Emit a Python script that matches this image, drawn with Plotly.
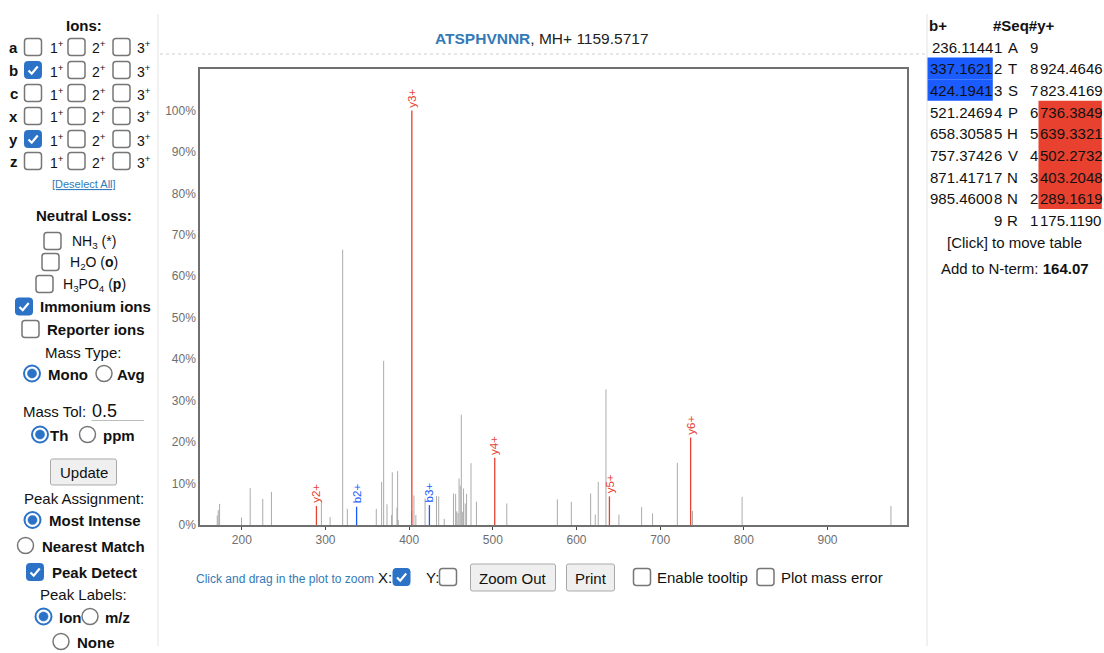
import plotly.graph_objects as go

# ---- spectrum data -------------------------------------------------------
peak_mz = [170.6, 171.8, 173.4, 199.6, 210.0, 225.0, 235.4, 295.1, 305.5, 320.5,
           326.1, 360.7, 367.1, 369.5, 373.5, 379.0, 379.8, 385.4, 386.2, 387.0,
           403.0, 405.7, 408.0, 419.0, 432.7, 435.3, 441.9, 453.0, 455.5, 456.8,
           458.4, 459.6, 461.0, 462.3, 463.5, 465.0, 467.0, 468.6, 473.9, 480.4,
           516.7, 577.1, 593.8, 616.9, 622.4, 626.0, 635.2, 650.7, 677.8, 690.9,
           720.5, 738.6, 797.9, 975.8]
peak_int = [2.3, 3.6, 5.1, 1.8, 8.9, 6.3, 8.0, 5.8, 1.9, 66.4,
            3.9, 3.9, 10.4, 39.6, 5.0, 2.4, 12.7, 4.2, 13.0, 1.2,
            3.4, 7.1, 2.4, 6.4, 7.0, 6.9, 1.5, 7.6, 7.5, 3.3,
            2.9, 11.2, 9.5, 26.6, 3.2, 8.8, 5.2, 7.5, 14.9, 5.6,
            5.2, 6.2, 5.6, 7.6, 2.5, 10.4, 32.7, 2.5, 4.3, 2.8,
            15.0, 3.4, 6.8, 4.6]

ion_labels = ["y2+", "b2+", "y3+", "b3+", "y4+", "y5+", "y6+"]
ion_mz = [289.1619, 337.16212, 403.2048, 424.19413, 502.2732, 639.3321, 736.3849]
ion_int = [4.6, 4.4, 100.0, 4.8, 16.2, 6.9, 21.1]

x_ticks = [200, 300, 400, 500, 600, 700, 800, 900]
y_ticks = [0, 10, 20, 30, 40, 50, 60, 70, 80, 90, 100]
y_tick_text = [f"{v}%" for v in y_ticks]

# ---- fragment table ------------------------------------------------------
sequence = ["A", "T", "S", "P", "H", "V", "N", "N", "R"]
b_ions = ["236.1144", "337.1621", "424.1941", "521.2469", "658.3058",
          "757.3742", "871.4171", "985.4600", ""]
y_ions = ["", "924.4646", "823.4169", "736.3849", "639.3321",
          "502.2732", "403.2048", "289.1619", "175.1190"]
b_matched = [1, 2]
y_matched = [3, 4, 5, 6, 7]

W, H = 1104, 653
H_DRAW = 646  # vertical extent the page layout is laid out on
FONT = "Liberation Sans, Arial, Helvetica, sans-serif"
RED = "#e8412f"
BLUE = "#1a5cff"
LINK = "#337ab7"
CHECK = "#2c72c7"
BOX = "#767676"


def X(px):
    return px / W


def Y(py):
    return 1 - py / H_DRAW


shapes = []
annotations = []


def text(px, py, s, size=15, color="#111111", anchor="left"):
    annotations.append(dict(
        x=X(px), y=Y(py + 0.5), xref="paper", yref="paper", text=s, showarrow=False,
        xanchor=anchor, yanchor="middle", borderpad=0,
        font=dict(size=size, color=color, family=FONT)))


def rect(x0, y0, x1, y1, fill="white", line=BOX, width=1.5):
    shapes.append(dict(type="rect", xref="paper", yref="paper",
                       x0=X(x0), x1=X(x1), y0=Y(y1), y1=Y(y0),
                       fillcolor=fill, line=dict(color=line, width=width)))


def round_rect(x0, y0, x1, y1, r=3, fill="white", line=BOX, width=1.5):
    def p(a, b):
        return f"{X(a):.5f},{Y(b):.5f}"
    path = (f"M {p(x0 + r, y0)} L {p(x1 - r, y0)} Q {p(x1, y0)} {p(x1, y0 + r)} "
            f"L {p(x1, y1 - r)} Q {p(x1, y1)} {p(x1 - r, y1)} "
            f"L {p(x0 + r, y1)} Q {p(x0, y1)} {p(x0, y1 - r)} "
            f"L {p(x0, y0 + r)} Q {p(x0, y0)} {p(x0 + r, y0)} Z")
    shapes.append(dict(type="path", xref="paper", yref="paper", path=path,
                       fillcolor=fill, line=dict(color=line, width=width)))


def checkbox(x0, yc, checked=False, size=17):
    y0 = yc - size / 2
    if checked:
        round_rect(x0, y0, x0 + size, y0 + size, fill=CHECK, line=CHECK, width=1)
        pts = [(x0 + 4, y0 + 9), (x0 + 7.2, y0 + 12.2), (x0 + 13.2, y0 + 5)]
        path = "M " + " L ".join(f"{X(a):.5f},{Y(b):.5f}" for a, b in pts)
        shapes.append(dict(type="path", xref="paper", yref="paper", path=path,
                           line=dict(color="white", width=2.2)))
    else:
        round_rect(x0, y0, x0 + size, y0 + size)


def circle(xc, yc, r, fill, line, width):
    shapes.append(dict(type="circle", xref="paper", yref="paper",
                       x0=X(xc - r), x1=X(xc + r), y0=Y(yc + r), y1=Y(yc - r),
                       fillcolor=fill, line=dict(color=line, width=width)))


def radio(xc, yc, checked=False):
    if checked:
        circle(xc, yc, 8, "white", CHECK, 2)
        circle(xc, yc, 4.6, CHECK, CHECK, 0.5)
    else:
        circle(xc, yc, 8, "white", BOX, 1.5)


def button(x0, y0, x1, y1, label):
    round_rect(x0, y0, x1, y1, r=2, fill="#efefef", line="#a9a9a9", width=1)
    text((x0 + x1) / 2, (y0 + y1) / 2, label, anchor="center")


# ---- page frame ----------------------------------------------------------
for xv in (158, 927):
    shapes.append(dict(type="line", xref="paper", yref="paper", x0=X(xv), x1=X(xv),
                       y0=Y(14), y1=0, line=dict(color="#e2e2e2", width=1)))
shapes.append(dict(type="line", xref="paper", yref="paper", x0=X(160), x1=X(925),
                   y0=Y(54), y1=Y(54), line=dict(color="#cfcfcf", width=1, dash="dot")))

# ---- title ---------------------------------------------------------------
text(542, 38, f"<span style='color:{LINK}'><b>{''.join(sequence)}</b></span>, MH+ 1159.5717",
     size=15.5, color="#222222", anchor="center")

# ---- ion selection panel -------------------------------------------------
text(83.5, 25, "<b>Ions:</b>", anchor="center")
ion_rows = ["a", "b", "c", "x", "y", "z"]
row_y = [47, 70, 93, 116, 139, 161]
for letter, yv in zip(ion_rows, row_y):
    text(13.5, yv, f"<b>{letter}</b>", anchor="center")
    checkbox(24.5, yv, checked=letter in ("b", "y"))
    text(48.5, yv, "1<sup>+</sup>", size=14)
    checkbox(68, yv)
    text(91, yv, "2<sup>+</sup>", size=14)
    checkbox(113, yv)
    text(136, yv, "3<sup>+</sup>", size=14)
text(83.5, 184, "<u>[Deselect All]</u>", size=11, color=LINK, anchor="center")

text(84, 215, "<b>Neutral Loss:</b>", anchor="center")
checkbox(44, 241)
text(71, 241, "NH<sub>3</sub> (*)", size=14)
checkbox(42, 262)
text(69, 262, "H<sub>2</sub>O (<b>o</b>)", size=14)
checkbox(36, 284)
text(62, 284, "H<sub>3</sub>PO<sub>4</sub> (<b>p</b>)", size=14)
checkbox(15.5, 306.5, checked=True)
text(39, 306.5, "<b>Immonium ions</b>")
checkbox(22, 329)
text(46, 329, "<b>Reporter ions</b>")

text(83, 351.5, "Mass Type:", anchor="center")
radio(32, 373.5, checked=True)
text(46.5, 373.5, "<b>Mono</b>")
radio(104, 373.5)
text(115.5, 373.5, "<b>Avg</b>")

text(22, 411, "Mass Tol:")
text(91.5, 410, "0.5", size=18)
shapes.append(dict(type="line", xref="paper", yref="paper", x0=X(91.5), x1=X(144),
                   y0=Y(420.5), y1=Y(420.5), line=dict(color="#bdbdbd", width=1)))
radio(40, 434.5, checked=True)
text(49, 434.5, "<b>Th</b>")
radio(87.5, 434.5)
text(101.5, 434.5, "<b>ppm</b>")

button(50.5, 459, 116.5, 485, "Update")
text(83.5, 498, "Peak Assignment:", anchor="center")
radio(32.5, 520, checked=True)
text(47.5, 520, "<b>Most Intense</b>")
radio(25.5, 545.5)
text(41, 545.5, "<b>Nearest Match</b>")
checkbox(26.5, 572, checked=True)
text(50.5, 572, "<b>Peak Detect</b>")
text(83.5, 593.5, "Peak Labels:", anchor="center")
radio(43.5, 616.5, checked=True)
text(57.5, 616.5, "<b>Ion</b>")
radio(90, 616.5)
text(104, 616.5, "<b>m/z</b>")
radio(61, 641.5)
text(75.5, 641.5, "<b>None</b>")

# ---- controls under the spectrum ----------------------------------------
text(195, 578, "Click and drag in the plot to zoom", size=12, color=LINK)
text(377, 577, "X:")
checkbox(393, 577, checked=True)
text(425, 577, "Y:")
checkbox(439.5, 577)
button(470.5, 564, 555.5, 591, "Zoom Out")
button(566.5, 564, 614.5, 591, "Print")
checkbox(633.5, 577)
text(656, 577, "Enable tooltip")
checkbox(757, 577)
text(780, 577, "Plot mass error")

# ---- fragment table ------------------------------------------------------
text(927.5, 25, "<b>b+</b>")
text(991.5, 25, "<b>#Seq#y+</b>")
row0, step = 46.7, 21.65
for i in b_matched:
    yc = row0 + i * step
    rect(927.5, yc - step / 2, 992.8, yc + step / 2, fill=BLUE, line=BLUE, width=0)
y_top = row0 + y_matched[0] * step - step / 2
y_bot = row0 + y_matched[-1] * step + step / 2
rect(1038.5, y_top, 1101.8, y_bot, fill=RED, line=RED, width=0)
n = len(sequence)
for i, aa in enumerate(sequence):
    yc = row0 + i * step
    if b_ions[i]:
        text(993.5, yc, b_ions[i], anchor="right")
    text(992.5, yc, str(i + 1))
    text(1012.5, yc, aa, anchor="center")
    text(1038.5, yc, str(n - i), anchor="right")
    if y_ions[i]:
        text(1038.5, yc, y_ions[i])
text(1014.5, 241.5, "[Click] to move table", anchor="center")
text(1015, 268.5, "Add to N-term: <b>164.07</b>", anchor="center")

# ---- spectrum traces -----------------------------------------------------
def stems(xs, ys):
    sx, sy = [], []
    for a, b in zip(xs, ys):
        sx += [a, a, None]
        sy += [0, b, None]
    return sx, sy


gx, gy = stems(peak_mz, peak_int)
traces = [go.Scatter(x=gx, y=gy, mode="lines", line=dict(color="#ababab", width=1),
                     hoverinfo="skip", showlegend=False)]
for lab, mz, it in zip(ion_labels, ion_mz, ion_int):
    col = RED if lab.startswith("y") else BLUE
    sx, sy = stems([mz], [it])
    traces.append(go.Scatter(x=sx, y=sy, mode="lines", line=dict(color=col, width=1.3),
                             hoverinfo="skip", showlegend=False))
    annotations.append(dict(x=mz, y=it, xref="x", yref="y", text=lab, showarrow=False,
                            textangle=-90, xanchor="center", yanchor="bottom", yshift=2,
                            borderpad=0, font=dict(size=11.5, color=col, family=FONT)))

fig = go.Figure(traces)
fig.update_layout(
    width=W, height=H, margin=dict(l=0, r=0, t=0, b=0),
    paper_bgcolor="white", plot_bgcolor="white",
    font=dict(family=FONT),
    shapes=shapes, annotations=annotations,
    xaxis=dict(domain=[X(200), X(907)], range=[150, 995], tickvals=x_ticks,
               showgrid=False, zeroline=False, showline=True, mirror=True,
               linecolor="#707070", linewidth=1.5, ticks="outside", ticklen=3,
               tickcolor="#444444", tickfont=dict(size=12, color="#6e6e6e")),
    yaxis=dict(domain=[Y(525), Y(69)], range=[0, 110], tickvals=y_ticks,
               ticktext=y_tick_text, showgrid=False, zeroline=False, showline=True,
               mirror=True, linecolor="#707070", linewidth=1.5, ticks="",
               tickfont=dict(size=12, color="#6e6e6e")),
)

fig.write_html("out.html")
